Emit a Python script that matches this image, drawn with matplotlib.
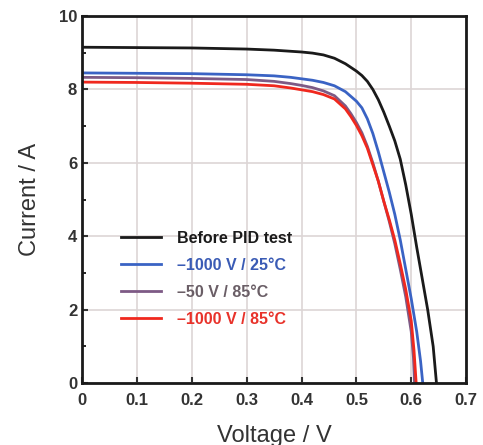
import matplotlib
matplotlib.use("Agg")
import matplotlib.pyplot as plt
from matplotlib.ticker import MultipleLocator

# I-V curves (voltage in V, current in A)
v_before = [0, 0.1, 0.2, 0.3, 0.35, 0.38, 0.4, 0.42, 0.44, 0.46, 0.48, 0.50, 0.51,
            0.52, 0.53, 0.54, 0.55, 0.56, 0.57, 0.58, 0.59, 0.60, 0.61, 0.62,
            0.63, 0.64, 0.646]
i_before = [9.15, 9.14, 9.13, 9.10, 9.07, 9.04, 9.02, 8.99, 8.94, 8.85, 8.70, 8.50,
            8.38, 8.22, 8.0, 7.72, 7.38, 7.0, 6.6, 6.1, 5.4, 4.6, 3.7, 2.85,
            2.0, 1.0, 0.0]

v_1000_25 = [0, 0.1, 0.2, 0.3, 0.35, 0.38, 0.4, 0.42, 0.44, 0.46, 0.48, 0.50, 0.51,
             0.52, 0.53, 0.54, 0.55, 0.56, 0.57, 0.58, 0.59, 0.60, 0.61, 0.617, 0.621]
i_1000_25 = [8.45, 8.44, 8.43, 8.40, 8.37, 8.33, 8.29, 8.25, 8.19, 8.10, 7.94, 7.68, 7.5,
             7.2, 6.8, 6.3, 5.75, 5.2, 4.6, 3.9, 3.1, 2.3, 1.4, 0.6, 0.0]

v_50_85 = [0, 0.1, 0.2, 0.3, 0.35, 0.38, 0.4, 0.42, 0.44, 0.46, 0.48, 0.49, 0.50, 0.51,
           0.52, 0.53, 0.54, 0.55, 0.56, 0.57, 0.58, 0.59, 0.60, 0.604, 0.606]
i_50_85 = [8.33, 8.32, 8.30, 8.27, 8.22, 8.16, 8.11, 8.05, 7.96, 7.83, 7.55, 7.34, 7.1, 6.82,
           6.45, 6.0, 5.5, 4.95, 4.4, 3.8, 3.1, 2.35, 1.4, 0.7, 0.0]

v_1000_85 = [0, 0.1, 0.2, 0.3, 0.35, 0.38, 0.4, 0.42, 0.44, 0.46, 0.48, 0.49, 0.50, 0.51,
             0.52, 0.53, 0.54, 0.55, 0.56, 0.57, 0.58, 0.59, 0.60, 0.605, 0.609]
i_1000_85 = [8.2, 8.19, 8.17, 8.14, 8.10, 8.04, 7.99, 7.94, 7.86, 7.74, 7.47, 7.26, 7.02, 6.74,
             6.4, 5.95, 5.5, 4.95, 4.45, 3.9, 3.25, 2.55, 1.7, 0.9, 0.0]

labels = ["Before PID test", "\u20131000 V / 25°C", "\u201350 V / 85°C", "\u20131000 V / 85°C"]
line_colors = ["#1a1a1a", "#3a63c4", "#7d5a85", "#f0281e"]
text_colors = ["#1a1a1a", "#3a5bb5", "#6a5e66", "#e8322a"]

plt.rcParams['font.family'] = ['Liberation Sans', 'DejaVu Sans']

fig = plt.figure(figsize=(4.83, 4.45), dpi=100)
ax = fig.add_axes([0.17, 0.139, 0.795, 0.825])

series = [(v_before, i_before), (v_1000_25, i_1000_25),
          (v_50_85, i_50_85), (v_1000_85, i_1000_85)]
for (v, i), lab, c in zip(series, labels, line_colors):
    ax.plot(v, i, color=c, lw=2, label=lab)

ax.set_xlim(0, 0.7)
ax.set_ylim(0, 10)
ax.set_xticks([0, 0.1, 0.2, 0.3, 0.4, 0.5, 0.6, 0.7])
ax.set_xticklabels(["0", "0.1", "0.2", "0.3", "0.4", "0.5", "0.6", "0.7"])
ax.yaxis.set_major_locator(MultipleLocator(2))
ax.yaxis.set_minor_locator(MultipleLocator(1))
ax.grid(True, color="#ddd5d5", lw=1.2)
ax.set_axisbelow(True)
ax.tick_params(direction="in", length=4, width=1.5, labelsize=12, colors="#333333")
ax.tick_params(axis="x", pad=7)
ax.tick_params(which="minor", direction="in", length=3, width=1.2)
for lab in ax.get_xticklabels() + ax.get_yticklabels():
    lab.set_fontweight("bold")
for s in ax.spines.values():
    s.set_linewidth(2)
    s.set_color("#1a1a1a")

ax.set_xlabel("Voltage / V", fontsize=17, color="#333333", labelpad=12)
ax.set_ylabel("Current / A", fontsize=17, color="#333333", labelpad=13)

leg = ax.legend(loc="lower left", bbox_to_anchor=(0.065, 0.115), frameon=False,
                handlelength=2.5, handletextpad=1.0, labelspacing=0.75,
                prop={"weight": "bold", "size": 11.5})
for t, c in zip(leg.get_texts(), text_colors):
    t.set_color(c)

fig.savefig("out.png", dpi=100)
